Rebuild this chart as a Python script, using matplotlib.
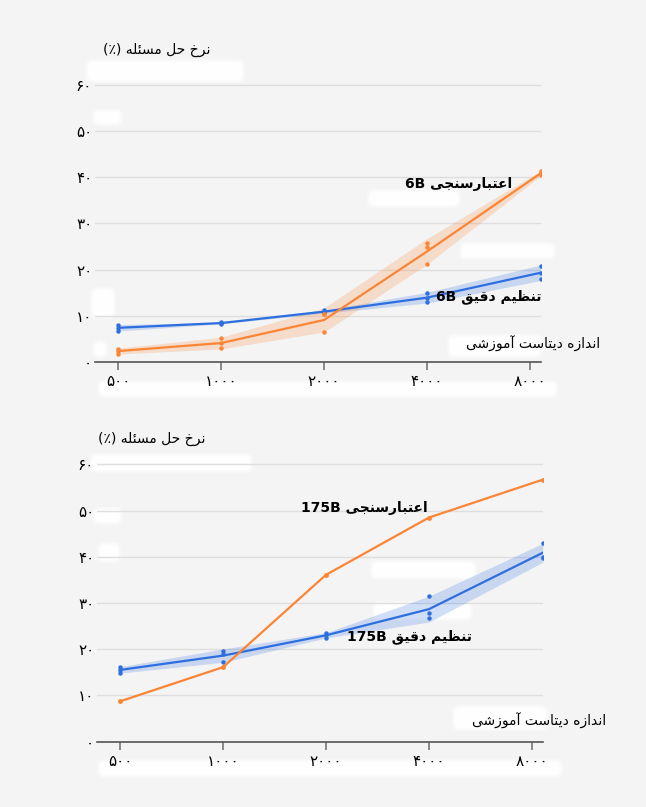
import matplotlib
matplotlib.use("Agg")
import matplotlib.pyplot as plt
import numpy as np
from matplotlib.patches import FancyBboxPatch

# data
sizes = [500, 1000, 2000, 4000, 8600]
size_labels = ['۵۰۰', '۱۰۰۰', '۲۰۰۰', '۴۰۰۰', '۸۰۰۰']
y_ticks = [0, 10, 20, 30, 40, 50, 60]
y_labels = ['۰', '۱۰', '۲۰', '۳۰', '۴۰', '۵۰', '۶۰']

# 6B: three runs per size
ft_6b = [[8.0, 7.4, 6.8], [8.6, 8.4, 8.3], [11.2, 10.9, 10.6], [15.0, 13.8, 13.0], [20.8, 19.3, 17.9]]
fs_6b = [[2.9, 2.4, 1.8], [5.2, 4.1, 3.0], [6.5, 10.4, 10.4], [25.8, 24.8, 21.2], [41.3, 40.9, 40.4]]
# 175B
ft_175b = [[16.1, 15.5, 14.9], [19.6, 19.0, 17.2], [23.5, 23.0, 22.5], [31.4, 27.8, 26.8], [42.9, 40.0, 39.7]]
fs_175b = [8.7, 16.1, 36.1, 48.5, 56.7]

title_txt = 'نرخ حل مسئله'
xlabel_txt = 'اندازه دیتاست آموزشی'
fs_txt = 'اعتبارسنجی'
ft_txt = 'تنظیم دقیق'

BLUE = '#2e6fe0'
ORANGE = '#fb8534'
BG = '#f4f4f4'

# minimal Arabic/Persian shaping (presentation forms + visual order)
FORMS = {
    'ا': ('\uFE8D', '\uFE8E', None, None),
    'آ': ('\uFE81', '\uFE82', None, None),
    'ب': ('\uFE8F', '\uFE90', '\uFE91', '\uFE92'),
    'ت': ('\uFE95', '\uFE96', '\uFE97', '\uFE98'),
    'ج': ('\uFE9D', '\uFE9E', '\uFE9F', '\uFEA0'),
    'ح': ('\uFEA1', '\uFEA2', '\uFEA3', '\uFEA4'),
    'خ': ('\uFEA5', '\uFEA6', '\uFEA7', '\uFEA8'),
    'د': ('\uFEA9', '\uFEAA', None, None),
    'ر': ('\uFEAD', '\uFEAE', None, None),
    'ز': ('\uFEAF', '\uFEB0', None, None),
    'س': ('\uFEB1', '\uFEB2', '\uFEB3', '\uFEB4'),
    'ش': ('\uFEB5', '\uFEB6', '\uFEB7', '\uFEB8'),
    'ظ': ('\uFEC5', '\uFEC6', '\uFEC7', '\uFEC8'),
    'ع': ('\uFEC9', '\uFECA', '\uFECB', '\uFECC'),
    'ق': ('\uFED5', '\uFED6', '\uFED7', '\uFED8'),
    'ل': ('\uFEDD', '\uFEDE', '\uFEDF', '\uFEE0'),
    'م': ('\uFEE1', '\uFEE2', '\uFEE3', '\uFEE4'),
    'ن': ('\uFEE5', '\uFEE6', '\uFEE7', '\uFEE8'),
    'ه': ('\uFEE9', '\uFEEA', '\uFEEB', '\uFEEC'),
    'و': ('\uFEED', '\uFEEE', None, None),
    'ئ': ('\uFE89', '\uFE8A', '\uFE8B', '\uFE8C'),
    'ی': ('\uFEEF', '\uFEF0', '\uFEF3', '\uFEF4'),
}


def shape(text):
    out = []
    for i, c in enumerate(text):
        if c not in FORMS:
            out.append(c)
            continue
        prev = text[i - 1] if i > 0 else None
        nxt = text[i + 1] if i + 1 < len(text) else None
        iso, fin, ini, med = FORMS[c]
        jp = prev in FORMS and FORMS[prev][2] is not None
        jn = nxt in FORMS and ini is not None
        if jp and jn:
            g = med
        elif jp:
            g = fin
        elif jn:
            g = ini
        else:
            g = iso
        out.append(g)
    return ''.join(reversed(out))


W, H = 646, 807
plt.rcParams['font.family'] = ['DejaVu Sans']
fig = plt.figure(figsize=(W / 100, H / 100), dpi=100, facecolor=BG)


def px(x, y):
    return x / W, 1 - y / H


def blob(x0, y0, x1, y1):
    # soft white patch, a few layers to fake a blurred edge
    for grow, al in [(3, 0.35), (1.5, 0.5), (0, 0.9)]:
        a, b = px(x0 - grow, y1 + grow)
        c, d = px(x1 + grow, y0 - grow)
        fig.patches.append(FancyBboxPatch((a, b), c - a, d - b,
                                          boxstyle='round,pad=0.0,rounding_size=0.008',
                                          transform=fig.transFigure, fc='white', ec='none',
                                          alpha=al, zorder=-5))


def setup(ax):
    ax.set_facecolor('none')
    ax.set_xscale('log', base=2)
    ax.set_xlim(428, 8616)
    ax.set_ylim(0, 60.2)
    for s in ['top', 'right', 'left']:
        ax.spines[s].set_visible(False)
    ax.spines['bottom'].set_color('#555555')
    ax.spines['bottom'].set_linewidth(1.2)
    ax.set_xticks(sizes[:4] + [8000])
    ax.set_xticklabels(size_labels, fontsize=11)
    ax.xaxis.set_minor_locator(plt.NullLocator())
    ax.tick_params(axis='x', length=6, width=1.2, color='#777777', pad=3)
    ax.set_yticks(y_ticks)
    ax.set_yticklabels(y_labels, fontsize=11)
    ax.tick_params(axis='y', length=0, pad=2)
    ax.grid(axis='y', color='#dedede', linewidth=1)
    ax.set_axisbelow(True)


def band_line(ax, runs, color):
    arr = np.array(runs)
    m = arr.mean(axis=1)
    sem = arr.std(axis=1, ddof=1) / np.sqrt(arr.shape[1])
    ax.fill_between(sizes, m - 2 * sem, m + 2 * sem, color=color, alpha=0.22, lw=0)
    ax.plot(sizes, m, color=color, lw=1.6)
    for i, x in enumerate(sizes):
        ax.plot([x] * arr.shape[1], arr[i], 'o', color=color, ms=3.2, mec='none')


# white smudges seen in the picture (behind everything)
for r in [(88, 62, 242, 80), (370, 192, 458, 205), (462, 245, 553, 257), (100, 383, 555, 395),
          (95, 112, 120, 123), (93, 290, 113, 316), (95, 343, 105, 355), (450, 337, 540, 355),
          (92, 456, 250, 470), (373, 563, 474, 577), (375, 604, 470, 618), (100, 762, 560, 775),
          (95, 510, 120, 522), (455, 708, 545, 728), (100, 545, 118, 560)]:
    blob(*r)

ax1 = fig.add_axes([95 / W, 1 - 362 / H, 446 / W, 278 / H])
setup(ax1)
band_line(ax1, ft_6b, BLUE)
band_line(ax1, fs_6b, ORANGE)

ax2 = fig.add_axes([97 / W, 1 - 741.5 / H, 446 / W, 278 / H])
setup(ax2)
band_line(ax2, ft_175b, BLUE)
ax2.plot(sizes, fs_175b, '-o', color=ORANGE, lw=1.6, ms=3.5, mec='none')

# titles, axis labels, annotations
fig.text(*px(103, 50), '(٪) ' + shape(title_txt), fontsize=10, va='center', ha='left')
fig.text(*px(98, 439), '(٪) ' + shape(title_txt), fontsize=10, va='center', ha='left')
fig.text(*px(600, 344), shape(xlabel_txt), fontsize=10, va='center', ha='right')
fig.text(*px(606, 721), shape(xlabel_txt), fontsize=10, va='center', ha='right')

fig.text(*px(512, 184), '6B ' + shape(fs_txt), fontsize=10, fontweight='bold', va='center', ha='right')
fig.text(*px(541, 297), '6B ' + shape(ft_txt), fontsize=10, fontweight='bold', va='center', ha='right')
fig.text(*px(428, 508), '175B ' + shape(fs_txt), fontsize=10, fontweight='bold', va='center', ha='right')
fig.text(*px(472, 637), '175B ' + shape(ft_txt), fontsize=10, fontweight='bold', va='center', ha='right')

fig.savefig('out.png', dpi=100, facecolor=BG)
